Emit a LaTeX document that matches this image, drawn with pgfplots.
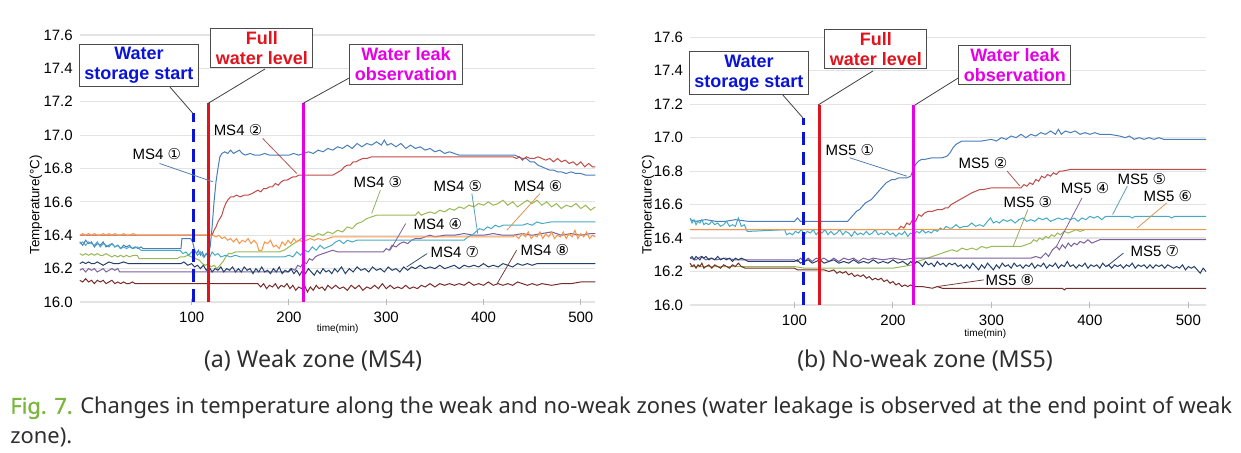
\documentclass[border=0pt]{standalone}
\usepackage{fontspec}
\setmainfont{Liberation Sans}
\newfontfamily\djv{DejaVu Sans}
\newfontfamily\capfont{Noto Sans}
\usepackage{pgfplots}
\pgfplotsset{compat=1.18}
\definecolor{cA}{HTML}{4A7EBB}
\definecolor{cB}{HTML}{BE4B48}
\definecolor{cC}{HTML}{98B954}
\definecolor{cD}{HTML}{7D60A0}
\definecolor{cE}{HTML}{46AAC5}
\definecolor{cF}{HTML}{F79646}
\definecolor{cG}{HTML}{24416B}
\definecolor{cH}{HTML}{772C2A}
\definecolor{evB}{RGB}{10,20,215}
\definecolor{evR}{RGB}{225,20,30}
\definecolor{evM}{RGB}{230,0,230}
\definecolor{figgreen}{RGB}{122,182,60}
\pgfplotsset{
  panel/.style={
    scale only axis, clip=false,
    ymin=16, ymax=17.6,
    ytick={16,16.2,16.4,16.6,16.8,17,17.2,17.4,17.6},
    xtick={100,200,300,400,500},
    ymajorgrids, grid style={gray!22, line width=0.6pt},
    axis line style={draw=none},
    ytick style={draw=none},
    xtick style={gray!55, line width=0.5pt},
    xtick pos=lower, ytick pos=lower,
    major tick length=3pt, xtick align=center,
    tick label style={font=\fontsize{7.5}{9}\selectfont},
    yticklabel style={/pgf/number format/.cd, fixed, fixed zerofill, precision=1},
    /pgf/number format/assume math mode=true,
    every axis plot/.append style={line width=0.5pt, mark=none},
  },
}
\tikzset{
  evbox/.style={draw=gray!60!black, fill=white, line width=0.5pt, align=center,
    font=\bfseries\fontsize{9}{10}\selectfont, inner xsep=2.5pt, inner ysep=1.5pt},
  msl/.style={font=\fontsize{7.5}{9}\selectfont, inner sep=0.5pt},
}
\newcommand{\ms}[2]{MS#1 {\djv #2}}
\begin{document}
\begin{tikzpicture}
\path[use as bounding box] (0,0) rectangle (620.5pt,226.5pt);
% ================= LEFT PANEL =================
\begin{axis}[panel, at={(39.9pt,75.5pt)}, anchor=south west,
  width=257.8pt, height=133.5pt, xmin=-15, xmax=515]
% MS4-1
\addplot[cA] coordinates {(-15,16.36) (-12,16.34) (-9,16.37) (-6,16.35) (-3,16.36) (0,16.33) (3,16.35) (6,16.34) (9,16.36) (12,16.33) (15,16.34) (18,16.35) (21,16.33) (24,16.34) (27,16.32) (30,16.34) (33,16.33) (36,16.34) (39,16.32) (42,16.33) (45,16.32) (48,16.33)
(50,16.32) (89,16.32) (90,16.38) (99,16.38) (101,16.36) (103,16.31) (105,16.29) (107,16.31) (109,16.28) (111,16.30) (113,16.27) (115,16.29) (117,16.28) (119,16.33) (121,16.45) (123,16.60) (125,16.72) (127,16.80) (129,16.87) (131,16.89) (134,16.90) (137,16.89) (140,16.91) (143,16.89) (146,16.90) (149,16.91) (152,16.89) (155,16.88) (160,16.89) (165,16.88) (170,16.88) (175,16.89) (180,16.88) (190,16.88) (200,16.88) (205,16.89) (210,16.88) (215,16.89) (220,16.90) (225,16.89) (230,16.91) (235,16.90) (240,16.92) (245,16.91) (250,16.93) (255,16.92) (260,16.94) (265,16.92) (270,16.95) (275,16.93) (280,16.95) (285,16.94) (290,16.96) (295,16.94) (298,16.97) (301,16.94) (305,16.95) (310,16.93) (315,16.95) (320,16.92) (325,16.94) (330,16.92) (335,16.93) (340,16.91) (345,16.92) (350,16.90) (355,16.91) (360,16.89) (365,16.90) (370,16.89) (375,16.88) (380,16.88) (400,16.88) (420,16.88) (432,16.88) (436,16.87) (440,16.86) (444,16.86) (448,16.84) (452,16.84) (456,16.82) (460,16.81) (464,16.80) (468,16.79) (472,16.79) (476,16.78) (480,16.78) (485,16.77) (490,16.78) (495,16.77) (500,16.77) (505,16.76) (510,16.76) (515,16.76)};
% MS4-2
\addplot[cB] coordinates {(-15,16.40) (119,16.40) (121,16.40) (123,16.43) (125,16.45) (127,16.48) (129,16.50) (131,16.52) (133,16.56) (135,16.59) (137,16.61) (140,16.63) (143,16.63) (146,16.64) (150,16.63) (154,16.64) (158,16.64) (162,16.65) (165,16.66) (168,16.67) (171,16.66) (174,16.68) (177,16.68) (180,16.69) (183,16.69) (186,16.71) (189,16.70) (192,16.72) (195,16.73) (198,16.73) (201,16.74) (204,16.75) (207,16.75) (210,16.76) (245,16.76) (248,16.77) (251,16.78) (254,16.79) (257,16.81) (260,16.82) (263,16.82) (266,16.84) (269,16.84) (272,16.85) (276,16.86) (280,16.86) (285,16.87) (290,16.87) (430,16.87) (434,16.86) (437,16.87) (440,16.85) (444,16.87) (448,16.86) (452,16.86) (456,16.87) (460,16.86) (464,16.85) (468,16.86) (472,16.84) (476,16.86) (480,16.84) (484,16.85) (488,16.83) (492,16.84) (496,16.82) (500,16.84) (504,16.81) (508,16.83) (512,16.81) (515,16.81)};
% MS4-3
\addplot[cC] coordinates {(-15,16.29) (-12,16.28) (-9,16.29) (-6,16.28) (-3,16.29) (0,16.28) (3,16.29) (6,16.28) (9,16.28) (12,16.29) (15,16.28) (18,16.27) (21,16.28) (24,16.27) (27,16.28) (30,16.27) (33,16.28) (36,16.27) (40,16.28) (44,16.28) (46,16.26) (85,16.26) (88,16.27) (92,16.27) (96,16.28) (100,16.27) (104,16.26) (108,16.25) (111,16.23) (114,16.22) (117,16.23) (120,16.21) (123,16.22) (126,16.20) (129,16.22) (132,16.24) (135,16.27) (138,16.29) (141,16.29) (145,16.30) (150,16.30) (160,16.30) (170,16.30) (180,16.30) (190,16.30) (195,16.31) (200,16.33) (205,16.35) (210,16.37) (215,16.39) (220,16.40) (225,16.39) (230,16.41) (235,16.40) (240,16.42) (245,16.41) (250,16.43) (255,16.42) (260,16.45) (265,16.44) (270,16.47) (275,16.48) (280,16.50) (285,16.51) (290,16.52) (300,16.52) (320,16.52) (330,16.52) (333,16.54) (336,16.52) (340,16.53) (345,16.54) (350,16.53) (355,16.55) (360,16.54) (365,16.56) (370,16.55) (375,16.57) (380,16.56) (385,16.58) (390,16.57) (395,16.59) (400,16.58) (405,16.60) (410,16.58) (415,16.59) (420,16.61) (425,16.58) (430,16.60) (435,16.57) (440,16.59) (445,16.61) (450,16.59) (455,16.61) (460,16.58) (465,16.60) (470,16.57) (475,16.59) (480,16.56) (485,16.58) (490,16.57) (495,16.59) (500,16.56) (505,16.58) (510,16.55) (515,16.57)};
% MS4-4
\addplot[cD] coordinates {(-15,16.19) (-12,16.20) (-9,16.18) (-6,16.20) (-3,16.19) (0,16.20) (3,16.18) (6,16.19) (9,16.20) (12,16.18) (15,16.19) (18,16.20) (21,16.19) (24,16.20) (26,16.18) (200,16.18) (203,16.20) (206,16.19) (209,16.22) (212,16.21) (215,16.24) (218,16.23) (221,16.26) (224,16.25) (227,16.27) (230,16.28) (235,16.29) (240,16.30) (245,16.31) (250,16.30) (260,16.30) (280,16.30) (297,16.30) (300,16.32) (303,16.31) (306,16.34) (310,16.33) (314,16.35) (318,16.36) (322,16.35) (326,16.37) (330,16.38) (335,16.38) (340,16.39) (345,16.40) (350,16.39) (360,16.40) (370,16.40) (380,16.41) (390,16.40) (400,16.40) (410,16.41) (420,16.40) (430,16.40) (440,16.41) (450,16.40) (460,16.41) (470,16.42) (480,16.40) (490,16.41) (500,16.40) (510,16.41) (515,16.41)};
% MS4-5
\addplot[cE] coordinates {(-15,16.35) (-12,16.36) (-9,16.34) (-6,16.36) (-3,16.35) (0,16.34) (3,16.36) (6,16.33) (9,16.35) (12,16.34) (15,16.33) (18,16.35) (21,16.33) (24,16.34) (27,16.32) (30,16.33) (33,16.32) (36,16.33) (40,16.32) (44,16.33) (48,16.31) (88,16.31) (91,16.29) (94,16.30) (97,16.28) (100,16.30) (103,16.31) (106,16.28) (109,16.30) (112,16.27) (115,16.29) (118,16.26) (121,16.30) (124,16.28) (127,16.29) (130,16.27) (135,16.28) (140,16.27) (145,16.28) (150,16.27) (160,16.27) (180,16.27) (195,16.27) (200,16.28) (204,16.27) (208,16.30) (212,16.28) (216,16.31) (220,16.30) (224,16.33) (228,16.31) (232,16.34) (236,16.32) (240,16.33) (244,16.34) (248,16.36) (252,16.37) (256,16.35) (260,16.37) (265,16.36) (270,16.37) (380,16.37) (384,16.39) (388,16.40) (392,16.42) (396,16.44) (400,16.43) (404,16.45) (408,16.44) (412,16.46) (416,16.45) (420,16.46) (430,16.46) (440,16.46) (445,16.47) (450,16.46) (455,16.48) (460,16.47) (470,16.48) (480,16.48) (490,16.48) (515,16.48)};
% MS4-6
\addplot[cF] coordinates {(-15,16.40) (-12,16.41) (-9,16.40) (-6,16.41) (-3,16.40) (0,16.41) (3,16.40) (6,16.40) (9,16.41) (12,16.40) (15,16.41) (18,16.40) (21,16.41) (24,16.40) (27,16.40) (30,16.41) (33,16.40) (36,16.40) (40,16.41) (44,16.40) (48,16.40) (122,16.40) (125,16.39) (128,16.40) (131,16.38) (134,16.39) (137,16.37) (140,16.38) (143,16.36) (146,16.38) (149,16.35) (152,16.37) (155,16.36) (158,16.38) (161,16.35) (164,16.37) (167,16.35) (169,16.31) (172,16.31) (175,16.36) (178,16.35) (181,16.37) (184,16.33) (187,16.34) (190,16.32) (193,16.36) (196,16.34) (199,16.37) (202,16.35) (205,16.38) (208,16.36) (211,16.37) (214,16.36) (218,16.37) (222,16.38) (226,16.37) (230,16.38) (235,16.37) (240,16.38) (245,16.39) (250,16.39) (260,16.39) (280,16.39) (300,16.39) (350,16.39) (400,16.39) (430,16.39) (433,16.40) (436,16.38) (440,16.41) (443,16.39) (446,16.42) (449,16.38) (452,16.40) (455,16.39) (458,16.42) (461,16.38) (464,16.41) (467,16.39) (470,16.42) (473,16.38) (476,16.40) (479,16.39) (482,16.42) (485,16.38) (488,16.41) (491,16.39) (494,16.43) (497,16.38) (500,16.41) (503,16.39) (506,16.42) (509,16.38) (512,16.40) (515,16.39)};
% MS4-7
\addplot[cG] coordinates {(-15,16.23) (-12,16.24) (-9,16.23) (-6,16.24) (-3,16.23) (0,16.23) (3,16.24) (6,16.23) (9,16.22) (12,16.23) (15,16.24) (20,16.23) (25,16.23) (30,16.24) (35,16.23) (40,16.23) (60,16.23) (89,16.23) (92,16.24) (96,16.22) (100,16.23) (103,16.21) (106,16.22) (109,16.20) (112,16.22) (115,16.19) (118,16.21) (121,16.18) (124,16.20) (127,16.19) (130,16.21) (133,16.18) (136,16.20) (139,16.19) (142,16.21) (145,16.18) (148,16.20) (151,16.18) (154,16.21) (157,16.19) (160,16.20) (163,16.17) (166,16.20) (169,16.18) (172,16.21) (175,16.18) (178,16.19) (181,16.17) (184,16.20) (187,16.18) (190,16.21) (193,16.17) (196,16.19) (199,16.18) (202,16.20) (205,16.17) (208,16.19) (211,16.16) (214,16.19) (217,16.17) (220,16.20) (223,16.18) (226,16.16) (229,16.19) (232,16.17) (235,16.20) (238,16.18) (241,16.19) (244,16.17) (247,16.20) (250,16.18) (254,16.21) (258,16.17) (262,16.20) (266,16.18) (270,16.21) (274,16.19) (278,16.20) (282,16.18) (286,16.21) (290,16.19) (294,16.20) (298,16.18) (302,16.21) (306,16.19) (310,16.20) (314,16.18) (318,16.21) (322,16.19) (326,16.21) (330,16.20) (335,16.22) (340,16.20) (345,16.21) (350,16.20) (355,16.22) (360,16.20) (365,16.21) (370,16.22) (375,16.20) (380,16.22) (385,16.21) (390,16.22) (395,16.21) (400,16.23) (405,16.21) (410,16.22) (415,16.21) (420,16.23) (425,16.22) (430,16.21) (435,16.23) (440,16.22) (445,16.23) (450,16.22) (455,16.23) (460,16.23) (470,16.23) (490,16.23) (515,16.23)};
% MS4-8
\addplot[cH] coordinates {(-15,16.13) (-12,16.12) (-9,16.14) (-6,16.12) (-3,16.13) (0,16.11) (3,16.13) (6,16.12) (9,16.13) (12,16.11) (15,16.12) (18,16.13) (21,16.11) (24,16.12) (27,16.11) (30,16.12) (33,16.11) (36,16.11) (39,16.12) (42,16.11) (45,16.11) (168,16.11) (171,16.09) (174,16.11) (177,16.08) (180,16.10) (183,16.09) (186,16.11) (189,16.08) (192,16.10) (195,16.09) (198,16.11) (201,16.08) (204,16.10) (207,16.07) (210,16.09) (213,16.08) (216,16.10) (219,16.06) (222,16.09) (225,16.07) (228,16.10) (231,16.08) (234,16.09) (237,16.07) (240,16.10) (244,16.08) (248,16.10) (252,16.08) (256,16.09) (260,16.07) (264,16.10) (268,16.08) (272,16.10) (276,16.07) (280,16.09) (284,16.08) (288,16.10) (292,16.08) (296,16.11) (300,16.08) (304,16.10) (308,16.08) (312,16.09) (316,16.08) (320,16.10) (324,16.08) (328,16.09) (332,16.08) (336,16.10) (340,16.09) (345,16.11) (350,16.09) (355,16.11) (360,16.10) (365,16.11) (370,16.10) (375,16.11) (380,16.10) (385,16.12) (390,16.10) (395,16.11) (400,16.10) (405,16.12) (410,16.10) (415,16.11) (420,16.10) (425,16.11) (430,16.10) (435,16.12) (440,16.11) (445,16.10) (450,16.11) (455,16.10) (460,16.11) (470,16.10) (480,16.11) (490,16.11) (500,16.12) (515,16.12)};
% event lines
\addplot[evB, line width=1.5pt, dash pattern=on 6.5pt off 3.5pt] coordinates {(101.6,16) (101.6,17.13)};
\addplot[evR, line width=1.5pt] coordinates {(117,16) (117,17.19)};
\addplot[evM, line width=1.5pt] coordinates {(214.7,16) (214.7,17.19)};
% event labels
\draw[gray!50!black, line width=0.4pt] (axis cs:77.7,17.288) -- (axis cs:101.3,17.13);
\draw[gray!50!black, line width=0.4pt] (axis cs:175.3,17.396) -- (axis cs:116.8,17.19);
\draw[gray!50!black, line width=0.4pt] (axis cs:263.7,17.348) -- (axis cs:214.4,17.19);
\node[evbox, text=evB] at (axis cs:45.8,17.417) {Water\\storage start};
\node[evbox, text=evR] at (axis cs:172.2,17.52) {Full\\water level};
\node[evbox, text=evM] at (axis cs:320.3,17.423) {Water leak\\observation};
% series labels
\draw[cA!80!gray, line width=0.4pt] (axis cs:67,16.83) -- (axis cs:122,16.72);
\draw[cB!80!gray, line width=0.4pt] (axis cs:173,16.98) -- (axis cs:208,16.77);
\draw[cC!80!gray, line width=0.4pt] (axis cs:294,16.67) -- (axis cs:285,16.53);
\draw[cD!80!gray, line width=0.4pt] (axis cs:320,16.47) -- (axis cs:304,16.31);
\draw[cE!80!gray, line width=0.4pt] (axis cs:388,16.65) -- (axis cs:394,16.41);
\draw[cF!80!gray, line width=0.4pt] (axis cs:458,16.65) -- (axis cs:424,16.43);
\draw[cG!80!gray, line width=0.4pt] (axis cs:342,16.29) -- (axis cs:321,16.21);
\draw[cH!80!gray, line width=0.4pt] (axis cs:434,16.31) -- (axis cs:414,16.11);
\node[msl] at (axis cs:64.3,16.887) {\ms{4}{①}};
\node[msl] at (axis cs:147.6,17.03) {\ms{4}{②}};
\node[msl] at (axis cs:291.4,16.72) {\ms{4}{③}};
\node[msl] at (axis cs:353.1,16.467) {\ms{4}{④}};
\node[msl] at (axis cs:373.7,16.695) {\ms{4}{⑤}};
\node[msl] at (axis cs:456,16.695) {\ms{4}{⑥}};
\node[msl] at (axis cs:370.6,16.30) {\ms{4}{⑦}};
\node[msl] at (axis cs:463,16.31) {\ms{4}{⑧}};
\node[rotate=90, font=\fontsize{6.7}{8}\selectfont] at (axis description cs:-0.0853,0.363) {Temperature(°C)};
\node[font=\fontsize{5}{6}\selectfont] at (axis description cs:0.50,-0.099) {time(min)};
\end{axis}
% ================= RIGHT PANEL =================
\begin{axis}[panel, at={(345.05pt,74pt)}, anchor=south west,
  width=258pt, height=133.85pt, xmin=-6, xmax=518]
% MS5-1
\addplot[cA] coordinates {(-6,16.51) (0,16.50) (10,16.51) (20,16.50) (30,16.50) (40,16.51) (53,16.50) (100,16.50) (103,16.52) (106,16.50) (154,16.50) (157,16.52) (160,16.54) (163,16.56) (166,16.57) (169,16.59) (172,16.61) (175,16.62) (178,16.63) (181,16.65) (184,16.67) (187,16.69) (190,16.71) (193,16.73) (196,16.74) (199,16.75) (202,16.75) (206,16.76) (210,16.76) (214,16.76) (218,16.77) (220,16.80) (223,16.84) (226,16.86) (229,16.87) (232,16.87) (240,16.88) (250,16.88) (255,16.89) (258,16.91) (261,16.94) (264,16.96) (267,16.97) (270,16.98) (280,16.98) (290,16.98) (300,16.99) (305,16.98) (310,17.00) (315,16.99) (320,17.01) (325,17.00) (330,17.02) (335,17.00) (340,17.02) (345,17.01) (350,17.03) (355,17.02) (360,17.04) (365,17.02) (368,17.05) (371,17.02) (375,17.04) (380,17.03) (385,17.04) (390,17.02) (395,17.03) (400,17.02) (405,17.03) (410,17.02) (420,17.02) (430,17.01) (436,17.00) (440,17.01) (445,16.99) (450,17.00) (455,16.99) (460,17.00) (465,16.99) (470,17.00) (475,16.99) (480,16.99) (490,16.99) (500,16.99) (510,16.99) (518,16.99)};
% MS5-2
\addplot[cB] coordinates {(-6,16.45) (205,16.45) (208,16.47) (211,16.46) (214,16.49) (217,16.48) (220,16.51) (223,16.50) (226,16.54) (229,16.53) (232,16.55) (236,16.56) (240,16.56) (245,16.57) (250,16.57) (253,16.58) (256,16.58) (259,16.60) (262,16.61) (265,16.62) (268,16.63) (271,16.64) (274,16.65) (277,16.66) (280,16.67) (284,16.68) (288,16.69) (292,16.69) (300,16.70) (310,16.70) (320,16.70) (330,16.70) (333,16.72) (336,16.71) (339,16.73) (342,16.72) (345,16.75) (348,16.74) (351,16.77) (354,16.76) (357,16.78) (360,16.77) (363,16.79) (366,16.78) (369,16.80) (372,16.80) (380,16.81) (400,16.81) (420,16.81) (440,16.81) (460,16.81) (490,16.81) (518,16.81)};
% MS5-3
\addplot[cC] coordinates {(-6,16.23) (100,16.23) (110,16.22) (200,16.22) (210,16.23) (220,16.24) (225,16.26) (230,16.27) (235,16.28) (240,16.29) (245,16.30) (250,16.31) (255,16.32) (260,16.33) (265,16.32) (270,16.34) (275,16.33) (280,16.34) (285,16.33) (290,16.35) (295,16.34) (300,16.35) (310,16.35) (320,16.35) (330,16.35) (335,16.36) (340,16.37) (343,16.39) (346,16.38) (349,16.40) (352,16.39) (355,16.41) (358,16.40) (361,16.42) (364,16.41) (367,16.43) (370,16.42) (374,16.44) (378,16.43) (382,16.44) (386,16.45) (390,16.44) (395,16.45) (400,16.45) (420,16.45) (460,16.45) (518,16.45)};
% MS5-4
\addplot[cD] coordinates {(-6,16.28) (0,16.27) (5,16.29) (10,16.27) (15,16.28) (20,16.27) (30,16.28) (40,16.27) (53,16.27) (100,16.27) (103,16.26) (106,16.28) (110,16.26) (114,16.28) (118,16.26) (122,16.28) (126,16.27) (130,16.28) (135,16.26) (140,16.28) (145,16.26) (150,16.28) (155,16.27) (160,16.28) (165,16.26) (170,16.28) (175,16.27) (180,16.28) (190,16.27) (200,16.28) (210,16.27) (220,16.28) (240,16.28) (280,16.28) (340,16.28) (345,16.29) (350,16.28) (355,16.31) (358,16.29) (362,16.33) (366,16.35) (369,16.33) (372,16.36) (375,16.34) (378,16.37) (381,16.35) (384,16.37) (387,16.36) (390,16.38) (394,16.37) (398,16.39) (402,16.37) (406,16.38) (410,16.39) (416,16.39) (440,16.39) (480,16.39) (518,16.39)};
% MS5-5
\addplot[cE] coordinates {(-6,16.52) (-4,16.49) (-2,16.51) (0,16.48) (2,16.50) (4,16.49) (6,16.51) (8,16.48) (10,16.49) (13,16.48) (16,16.50) (19,16.48) (22,16.49) (25,16.47) (28,16.48) (31,16.50) (34,16.47) (37,16.48) (40,16.47) (43,16.52) (46,16.47) (49,16.48) (52,16.44) (54,16.44) (90,16.45) (92,16.42) (95,16.43) (98,16.42) (101,16.44) (104,16.43) (107,16.45) (110,16.42) (113,16.44) (116,16.43) (119,16.45) (122,16.42) (125,16.44) (128,16.43) (131,16.45) (134,16.42) (137,16.44) (140,16.42) (143,16.43) (146,16.45) (149,16.42) (152,16.44) (155,16.43) (158,16.41) (161,16.44) (164,16.42) (167,16.43) (170,16.42) (173,16.44) (176,16.42) (179,16.43) (182,16.45) (185,16.42) (188,16.43) (191,16.42) (194,16.44) (197,16.42) (200,16.43) (203,16.41) (206,16.43) (209,16.42) (212,16.44) (215,16.41) (218,16.43) (221,16.42) (224,16.44) (227,16.43) (230,16.45) (233,16.43) (236,16.44) (239,16.43) (242,16.45) (245,16.44) (248,16.46) (251,16.45) (254,16.47) (257,16.46) (260,16.46) (264,16.48) (268,16.46) (272,16.47) (276,16.47) (280,16.49) (284,16.47) (288,16.48) (292,16.47) (296,16.50) (299,16.52) (302,16.49) (305,16.50) (308,16.49) (312,16.51) (316,16.50) (320,16.51) (324,16.49) (328,16.51) (332,16.52) (336,16.50) (340,16.51) (344,16.50) (348,16.52) (352,16.51) (356,16.52) (360,16.50) (364,16.51) (368,16.52) (372,16.51) (376,16.52) (380,16.51) (384,16.52) (388,16.50) (392,16.52) (396,16.51) (400,16.53) (404,16.52) (408,16.53) (412,16.51) (416,16.53) (440,16.53) (443,16.52) (446,16.53) (480,16.53) (483,16.52) (486,16.53) (518,16.53)};
% MS5-6
\addplot[cF] coordinates {(-6,16.45) (100,16.45) (200,16.45) (300,16.45) (400,16.45) (518,16.45)};
% MS5-7
\addplot[cG] coordinates {(-6,16.28) (-4,16.29) (-2,16.27) (0,16.29) (2,16.28) (4,16.27) (6,16.29) (8,16.28) (10,16.29) (13,16.27) (16,16.28) (19,16.27) (22,16.29) (25,16.27) (28,16.28) (31,16.27) (34,16.28) (37,16.26) (40,16.28) (43,16.27) (46,16.28) (50,16.27) (53,16.26) (100,16.26) (103,16.27) (106,16.25) (110,16.26) (114,16.27) (118,16.25) (122,16.26) (126,16.27) (130,16.25) (135,16.26) (140,16.27) (145,16.25) (150,16.26) (155,16.25) (160,16.27) (165,16.25) (170,16.26) (175,16.25) (180,16.27) (185,16.25) (190,16.26) (195,16.25) (200,16.27) (205,16.25) (210,16.26) (215,16.24) (218,16.26) (221,16.24) (224,16.26) (227,16.25) (230,16.23) (233,16.26) (236,16.24) (239,16.25) (242,16.23) (245,16.26) (248,16.24) (251,16.25) (254,16.23) (257,16.25) (260,16.24) (263,16.25) (266,16.23) (269,16.24) (272,16.22) (275,16.24) (278,16.22) (281,16.25) (284,16.23) (287,16.21) (290,16.24) (293,16.22) (296,16.25) (299,16.23) (302,16.21) (305,16.24) (308,16.22) (311,16.25) (314,16.23) (317,16.24) (320,16.22) (323,16.25) (326,16.23) (329,16.24) (332,16.22) (335,16.24) (338,16.23) (341,16.25) (344,16.22) (347,16.24) (350,16.23) (353,16.25) (356,16.22) (359,16.24) (362,16.23) (365,16.25) (368,16.22) (371,16.24) (374,16.23) (377,16.26) (380,16.23) (383,16.24) (386,16.22) (389,16.24) (392,16.23) (395,16.25) (398,16.22) (401,16.24) (404,16.23) (407,16.24) (410,16.22) (413,16.25) (416,16.23) (419,16.24) (422,16.22) (425,16.24) (428,16.23) (431,16.24) (434,16.22) (437,16.24) (440,16.23) (443,16.25) (446,16.22) (449,16.24) (452,16.23) (455,16.24) (458,16.22) (461,16.24) (464,16.22) (467,16.24) (470,16.23) (473,16.24) (476,16.22) (479,16.24) (482,16.23) (485,16.22) (488,16.23) (491,16.22) (494,16.24) (497,16.21) (500,16.23) (503,16.22) (506,16.23) (509,16.21) (512,16.19) (515,16.22) (518,16.20)};
% MS5-8
\addplot[cH] coordinates {(-6,16.25) (-4,16.23) (-2,16.24) (0,16.22) (2,16.24) (4,16.23) (6,16.25) (8,16.22) (10,16.23) (13,16.24) (16,16.22) (19,16.24) (22,16.23) (25,16.22) (28,16.24) (31,16.23) (34,16.22) (37,16.24) (40,16.23) (43,16.25) (46,16.23) (50,16.22) (53,16.22) (100,16.22) (103,16.21) (130,16.21) (135,16.20) (140,16.21) (143,16.19) (146,16.20) (149,16.19) (152,16.20) (155,16.18) (158,16.19) (161,16.17) (164,16.18) (167,16.17) (170,16.18) (173,16.16) (176,16.17) (179,16.15) (182,16.16) (185,16.15) (188,16.16) (191,16.14) (194,16.15) (197,16.13) (200,16.14) (203,16.12) (206,16.13) (209,16.11) (212,16.12) (215,16.11) (218,16.12) (221,16.11) (224,16.11) (230,16.11) (240,16.10) (245,16.11) (250,16.10) (300,16.10) (340,16.10) (372,16.10) (374,16.09) (376,16.10) (420,16.10) (518,16.10)};
% event lines
\addplot[evB, line width=1.5pt, dash pattern=on 6.5pt off 3.5pt] coordinates {(109.6,16) (109.6,17.12)};
\addplot[evR, line width=1.5pt] coordinates {(124.9,16) (124.9,17.195)};
\addplot[evM, line width=1.5pt] coordinates {(221.3,16) (221.3,17.195)};
\draw[gray!50!black, line width=0.4pt] (axis cs:87.3,17.261) -- (axis cs:108.6,17.118);
\draw[gray!50!black, line width=0.4pt] (axis cs:179.7,17.399) -- (axis cs:123.9,17.195);
\draw[gray!50!black, line width=0.4pt] (axis cs:268,17.363) -- (axis cs:222.3,17.195);
\node[evbox, text=evB] at (axis cs:53.8,17.387) {Water\\storage start};
\node[evbox, text=evR] at (axis cs:182.7,17.53) {Full\\water level};
\node[evbox, text=evM] at (axis cs:323.9,17.435) {Water leak\\observation};
% series labels
\draw[cA!80!gray, line width=0.4pt] (axis cs:156,16.88) -- (axis cs:214,16.77);
\draw[cB!80!gray, line width=0.4pt] (axis cs:316,16.80) -- (axis cs:329,16.71);
\draw[cC!80!gray, line width=0.4pt] (axis cs:337,16.57) -- (axis cs:322,16.35);
\draw[cD!80!gray, line width=0.4pt] (axis cs:392,16.64) -- (axis cs:366,16.35);
\draw[cE!80!gray, line width=0.4pt] (axis cs:438,16.71) -- (axis cs:423,16.54);
\draw[cF!80!gray, line width=0.4pt] (axis cs:478,16.61) -- (axis cs:448,16.46);
\draw[cG!80!gray, line width=0.4pt] (axis cs:434,16.31) -- (axis cs:417,16.23);
\draw[cH!80!gray, line width=0.4pt] (axis cs:292,16.15) -- (axis cs:245,16.11);
\node[msl] at (axis cs:156.3,16.926) {\ms{5}{①}};
\node[msl] at (axis cs:291.4,16.849) {\ms{5}{②}};
\node[msl] at (axis cs:337,16.616) {\ms{5}{③}};
\node[msl] at (axis cs:395,16.70) {\ms{5}{④}};
\node[msl] at (axis cs:452.8,16.753) {\ms{5}{⑤}};
\node[msl] at (axis cs:479.2,16.652) {\ms{5}{⑥}};
\node[msl] at (axis cs:466,16.323) {\ms{5}{⑦}};
\node[msl] at (axis cs:318.8,16.149) {\ms{5}{⑧}};
\node[rotate=90, font=\fontsize{6.7}{8}\selectfont] at (axis description cs:-0.0814,0.374) {Temperature(°C)};
\node[font=\fontsize{5}{6}\selectfont] at (axis description cs:0.572,-0.108) {time(min)};
\end{axis}
% ================= CAPTIONS =================
\node[font=\capfont\fontsize{11.6}{13}\selectfont, text=black!82] at (156.5pt,46pt) {(a) Weak zone (MS4)};
\node[font=\capfont\fontsize{11.6}{13}\selectfont, text=black!82] at (462.5pt,46pt) {(b) No-weak zone (MS5)};
\node[anchor=west, font=\capfont\fontsize{10.95}{13}\selectfont, text=black!82, inner sep=0pt] at (5pt,22.5pt) {{\color{figgreen}\addfontfeatures{FakeBold=1.2}Fig. 7.} Changes in temperature along the weak and no-weak zones (water leakage is observed at the end point of weak};
\node[anchor=west, font=\capfont\fontsize{10.95}{13}\selectfont, text=black!82, inner sep=0pt] at (5pt,8pt) {zone).};
\end{tikzpicture}
\end{document}
